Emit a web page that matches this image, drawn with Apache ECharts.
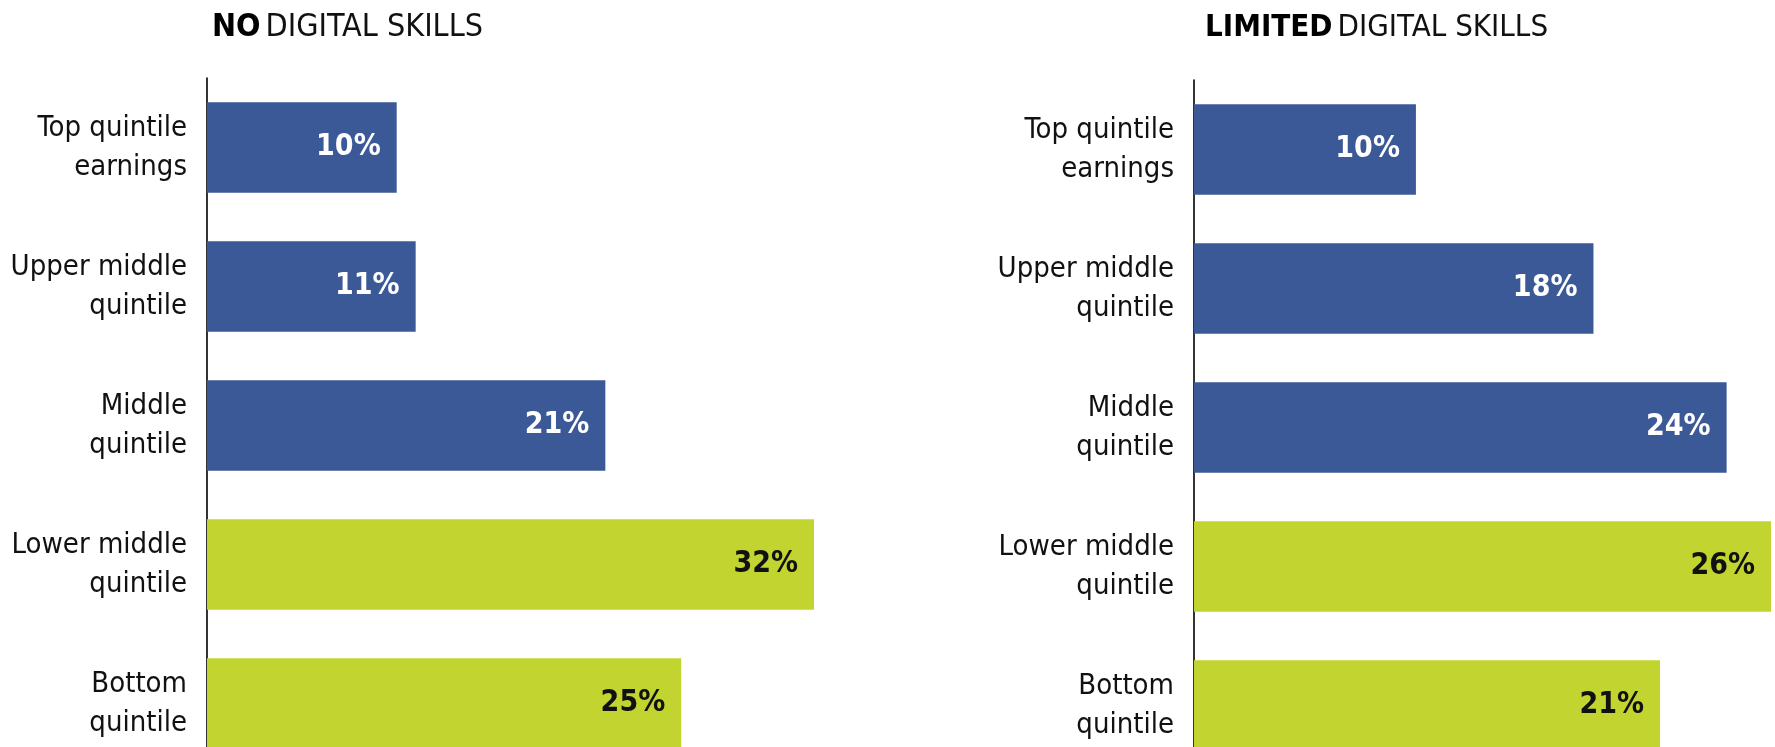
<!DOCTYPE html>
<html>
<head>
<meta charset="utf-8">
<script src="https://cdn.jsdelivr.net/npm/echarts@6/dist/echarts.min.js"></script>
<style>
html,body{margin:0;padding:0;background:#fff;}
#chart{width:1775px;height:747px;}
</style>
</head>
<body>
<div id="chart"></div>
<script>
const categories = ['Top quintile\nearnings', 'Upper middle\nquintile', 'Middle\nquintile', 'Lower middle\nquintile', 'Bottom\nquintile'];
const noSkills = [10, 11, 21, 32, 25];
const limitedSkills = [10, 18, 24, 26, 21];
const panelTitlesBold = ['NO', 'LIMITED'];
const panelTitlesRest = ['DIGITAL SKILLS', 'DIGITAL SKILLS'];

const FONT = "'Liberation Sans Narrow', 'DejaVu Sans Condensed', 'Roboto Condensed', 'Liberation Sans', sans-serif";
const BLUE = '#3b5897';
const GREEN = '#c2d42f';

const chart = echarts.init(document.getElementById('chart'), null, {renderer: 'canvas'});

function yAxis(gridIndex) {
  return {
    type: 'category', gridIndex: gridIndex, inverse: true, data: categories,
    axisLine: {show: true, lineStyle: {color: '#000', width: 1.6}},
    axisTick: {show: false},
    axisLabel: {
      fontFamily: FONT, fontSize: 29, color: '#111', lineHeight: 39,
      align: 'right', margin: 20, padding: [0, 0, 12, 0]
    }
  };
}
function xAxis(gridIndex, max) {
  return {type: 'value', gridIndex: gridIndex, min: 0, max: max, show: false};
}
function series(idx, values) {
  return {
    type: 'bar', xAxisIndex: idx, yAxisIndex: idx,
    data: values.map((v, i) => ({value: v, label: {color: i < 3 ? '#fff' : '#111'}})),
    barCategoryGap: '35%',
    itemStyle: {color: p => p.dataIndex < 3 ? BLUE : GREEN},
    label: {
      show: true, position: 'insideRight', distance: 16,
      formatter: p => p.value + '%',
      fontFamily: FONT, fontSize: 30, fontWeight: 'bold'
    }
  };
}

function title(i, left, size) {
  return {
    left: left, top: 7,
    text: '{b|' + panelTitlesBold[i] + '} {n|' + panelTitlesRest[i] + '}',
    textStyle: {
      rich: {
        b: {fontFamily: FONT, fontSize: size, fontWeight: 'bold', color: '#000'},
        n: {fontFamily: FONT, fontSize: size, fontWeight: 'normal', color: '#111'}
      }
    }
  };
}

chart.setOption({
  animation: false,
  title: [title(0, 207, 32), title(1, 1200, 31)],
  grid: [
    {left: 207, top: 78, width: 607, height: 695, outerBoundsMode: 'none', containLabel: false},
    {left: 1194, top: 80, width: 577, height: 695, outerBoundsMode: 'none', containLabel: false}
  ],
  xAxis: [xAxis(0, 32), xAxis(1, 26)],
  yAxis: [yAxis(0), yAxis(1)],
  series: [series(0, noSkills), series(1, limitedSkills)]
});
</script>
</body>
</html>
